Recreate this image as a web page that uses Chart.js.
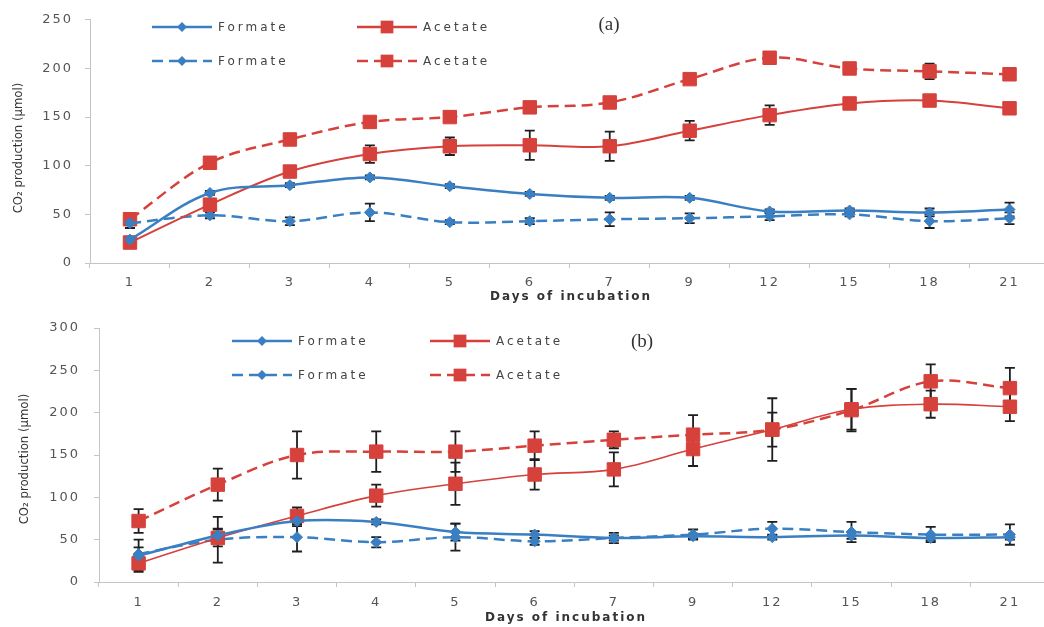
<!DOCTYPE html>
<html><head><meta charset="utf-8">
<script src="https://cdn.jsdelivr.net/npm/chart.js@4.4.1/dist/chart.umd.min.js"></script>
<style>
html,body{margin:0;padding:0;background:#fff;overflow:hidden;width:1044px;height:627px}
.p{position:absolute;left:0;width:1060px}
#wa{top:0;height:305px}
#wb{top:305px;height:322px}
</style></head><body>
<div class="p" id="wa"><canvas id="ca"></canvas></div>
<div class="p" id="wb"><canvas id="cb"></canvas></div>
<script>
const days = ['1','2','3','4','5','6','7','9','12','15','18','21'];
const yTicksA = [0,50,100,150,200,250];
const yTicksB = [0,50,100,150,200,250,300];
const seriesNames = ['Formate','Acetate','Formate','Acetate'];
// Panel (a)
const aFormateSolid     = [24,72,80,88,79,71,67,67,53,54,52,55];
const aFormateSolidErr  = [3,2,2,2,2,2,2,2,2,2,4,7];
const aAcetateSolid     = [21,60,94,112,120,121,120,136,152,164,167,159];
const aAcetateSolidErr  = [2,6,5,9,9,15,15,10,10,4,2,5];
const aFormateDashed    = [41,49,43,52,42,43,45,46,48,50,43,46];
const aFormateDashedErr = [5,3,4,9,2,3,7,5,4,2,7,6];
const aAcetateDashed    = [45,103,127,145,150,160,165,189,211,200,197,194];
const aAcetateDashedErr = [4,2,2,3,2,2,4,4,6,3,8,5];
// Panel (b)
const bFormateSolid     = [31,55,72,71,59,56,52,54,53,55,52,53];
const bFormateSolidErr  = [19,8,6,3,10,4,3,3,3,4,3,3];
const bAcetateSolid     = [22,52,78,102,116,127,133,157,180,204,210,207];
const bAcetateSolidErr  = [8,10,10,13,25,18,20,20,37,24,16,17];
const bFormateDashed    = [33,50,53,47,53,48,52,56,63,59,56,56];
const bFormateDashedErr = [8,27,17,6,16,4,6,6,8,12,9,12];
const bAcetateDashed    = [72,115,150,154,154,161,168,174,180,203,237,229];
const bAcetateDashedErr = [14,19,28,24,24,17,10,23,20,25,20,24];

const BLUE = '#3a7fc2', RED = '#d6413b', ERR = '#1e1e1e', TXT = '#555555';

function mk(label, data, err, color, dashed, style, r, w){
  return {label, data, errors: err, borderColor: color, backgroundColor: color,
    pointBorderColor: color, pointBackgroundColor: color, borderWidth: w,
    borderDash: dashed ? [11,6] : [], pointStyle: style, pointRadius: r,
    pointBorderWidth: 1, tension: 0.35, fill: false};
}

function drawMarker(ctx, style, x, y, r, color){
  ctx.save(); ctx.fillStyle = color; ctx.setLineDash([]);
  ctx.beginPath();
  if (style === 'rect') { const s = r * Math.SQRT1_2; ctx.rect(x - s, y - s, 2*s, 2*s); }
  else { ctx.moveTo(x, y - r); ctx.lineTo(x + r, y); ctx.lineTo(x, y + r); ctx.lineTo(x - r, y); ctx.closePath(); }
  ctx.fill(); ctx.restore();
}

const txtPlugin = {
  id: 'txt',
  beforeDraw(chart){ chart.ctx.letterSpacing = '2px'; },
  beforeDatasetsDraw(chart){
    const ctx = chart.ctx, ys = chart.scales.y;
    ctx.save();
    ctx.strokeStyle = ERR; ctx.lineWidth = 1.8; ctx.setLineDash([]);
    chart.data.datasets.forEach((ds, i) => {
      const meta = chart.getDatasetMeta(i);
      ds.errors.forEach((e, j) => {
        const x = meta.data[j].x, v = ds.data[j];
        const y1 = ys.getPixelForValue(v + e), y2 = ys.getPixelForValue(v - e);
        ctx.beginPath();
        ctx.moveTo(x, y1); ctx.lineTo(x, y2);
        ctx.moveTo(x - 5, y1); ctx.lineTo(x + 5, y1);
        ctx.moveTo(x - 5, y2); ctx.lineTo(x + 5, y2);
        ctx.stroke();
      });
    });
    ctx.restore();
  },
  afterDraw(chart, args, o){
    const ctx = chart.ctx;
    ctx.save();
    // legend
    const cols = [o.lx1, o.lx2], rows = [o.ly1, o.ly2];
    chart.data.datasets.forEach((ds, i) => {
      const x = cols[i % 2], y = rows[Math.floor(i / 2)];
      ctx.strokeStyle = ds.borderColor; ctx.lineWidth = 2.5;
      ctx.setLineDash(ds.borderDash);
      ctx.beginPath(); ctx.moveTo(x, y); ctx.lineTo(x + 60, y); ctx.stroke();
      drawMarker(ctx, ds.pointStyle, x + 30, y, ds.pointStyle === 'rect' ? 9 : 5, ds.borderColor);
      ctx.letterSpacing = '3px';
      ctx.fillStyle = '#444'; ctx.font = '12px "DejaVu Sans"';
      ctx.textAlign = 'left'; ctx.textBaseline = 'middle';
      ctx.fillText(ds.label, x + 66, y + 1);
    });
    // panel label
    ctx.letterSpacing = '0px';
    ctx.fillStyle = '#333'; ctx.font = '19px "Liberation Serif"';
    ctx.textAlign = 'center'; ctx.textBaseline = 'middle';
    ctx.fillText(o.label, o.labX, o.labY);
    // x title
    ctx.letterSpacing = '2px';
    ctx.fillStyle = '#333'; ctx.font = 'bold 12px "DejaVu Sans"';
    ctx.fillText('Days of incubation', o.xtX, o.xtY);
    // y title
    ctx.letterSpacing = '0px';
    ctx.translate(o.ytX, o.ytY); ctx.rotate(-Math.PI / 2);
    ctx.fillStyle = '#333'; ctx.font = '13px "Liberation Sans Narrow", "DejaVu Sans Condensed", sans-serif';
    ctx.fillText('CO\u2082 production (\u00b5mol)', 0, 0);
    ctx.restore();
  }
};

function scales(ticksArr, yPad, xPad, yWidth, xHeight){
  const font = {family: 'DejaVu Sans', size: 13};
  return {
    x: {type: 'category', offset: true,
      grid: {display: true, drawOnChartArea: false, offset: true, tickLength: 5, color: '#c4c4c4'},
      border: {color: '#c4c4c4'},
      ticks: {color: TXT, font, padding: xPad, maxRotation: 0, autoSkip: false},
      afterFit(s){ s.height = xHeight; }},
    y: {min: ticksArr[0], max: ticksArr[ticksArr.length - 1],
      afterBuildTicks(s){ s.ticks = ticksArr.map(v => ({value: v})); },
      grid: {drawOnChartArea: false, tickLength: 5, color: '#c4c4c4'},
      border: {color: '#c4c4c4'},
      ticks: {color: TXT, font, padding: yPad},
      afterFit(s){ s.width = yWidth; }}
  };
}

function build(id, sets, ticksArr, layout, plug, yPad, xPad, yWidth, xHeight){
  return new Chart(document.getElementById(id), {
    type: 'line',
    data: {labels: days, datasets: sets},
    options: {
      responsive: true, maintainAspectRatio: false, animation: false,
      layout: {padding: layout},
      plugins: {legend: {display: false}, tooltip: {enabled: false}, txt: plug},
      scales: scales(ticksArr, yPad, xPad, yWidth, xHeight)
    },
    plugins: [txtPlugin]
  });
}

build('ca', [
  mk(seriesNames[0], aFormateSolid, aFormateSolidErr, BLUE, false, 'rectRot', 5.5, 2.5),
  mk(seriesNames[1], aAcetateSolid, aAcetateSolidErr, RED, false, 'rect', 9.5, 2),
  mk(seriesNames[2], aFormateDashed, aFormateDashedErr, BLUE, true, 'rectRot', 5.5, 2.5),
  mk(seriesNames[3], aAcetateDashed, aAcetateDashedErr, RED, true, 'rect', 9.5, 2.5)
], yTicksA, {top: 15, right: 8, left: 0, bottom: 0},
 {lx1: 152, lx2: 357, ly1: 27, ly2: 61, label: '(a)', labX: 609, labY: 25,
  xtX: 571, xtY: 297, ytX: 19, ytY: 148}, 12, 7, 90, 42);

build('cb', [
  mk(seriesNames[0], bFormateSolid, bFormateSolidErr, BLUE, false, 'rectRot', 5.5, 2.5),
  mk(seriesNames[1], bAcetateSolid, bAcetateSolidErr, RED, false, 'rect', 9.5, 1.6),
  mk(seriesNames[2], bFormateDashed, bFormateDashedErr, BLUE, true, 'rectRot', 5.5, 2.5),
  mk(seriesNames[3], bAcetateDashed, bAcetateDashedErr, RED, true, 'rect', 9.5, 2.5)
], yTicksB, {top: 23, right: 4, left: 0, bottom: 0},
 {lx1: 232, lx2: 430, ly1: 36, ly2: 70, label: '(b)', labX: 642, labY: 37,
  xtX: 566, xtY: 313, ytX: 25, ytY: 154}, 14, 8, 99, 45);
</script>
</body></html>
